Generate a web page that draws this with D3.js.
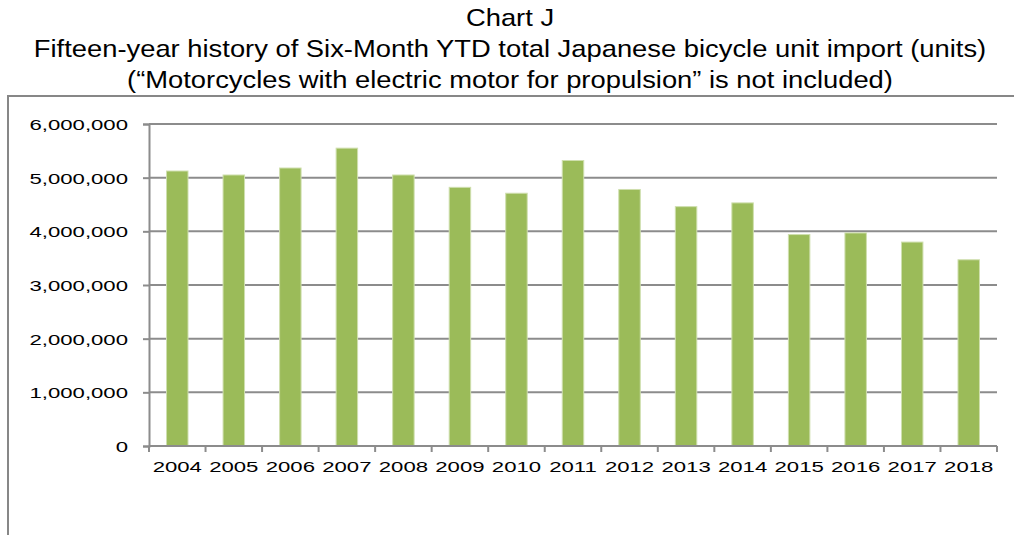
<!DOCTYPE html>
<html>
<head>
<meta charset="utf-8">
<script src="https://cdn.jsdelivr.net/npm/d3@7"></script>
<style>
  body { margin: 0; background: #fff; }
  text { font-family: "Liberation Sans", Arial, sans-serif; fill: #000; }
</style>
</head>
<body>
<div id="chart"></div>
<script>
// six-month YTD import units
var years = ["2004","2005","2006","2007","2008","2009","2010","2011","2012","2013","2014","2015","2016","2017","2018"];
var units = [5124000, 5050000, 5180000, 5550000, 5050000, 4820000, 4710000, 5320000, 4780000, 4460000, 4530000, 3940000, 3970000, 3800000, 3470000];
var yTicks = [0, 1000000, 2000000, 3000000, 4000000, 5000000, 6000000];
var titleLines = [
    "Chart J",
    "Fifteen-year history of Six-Month YTD total Japanese bicycle unit import (units)",
    "(\u201cMotorcycles with electric motor for propulsion\u201d is not included)"
];

var W = 1014, H = 535;
var plotLeft = 149, plotRight = 997, plotTop = 124, plotBottom = 446;
var stretch = 1.43; // tick labels in the source are widened

var svg = d3.select("#chart").append("svg")
    .attr("width", W)
    .attr("height", H);

// outer chart frame
svg.append("rect")
    .attr("x", 8).attr("y", 96)
    .attr("width", 1020).attr("height", 500)
    .attr("fill", "none")
    .attr("stroke", "#878787")
    .attr("stroke-width", 2);

svg.selectAll("text.title")
    .data(titleLines)
    .enter()
    .append("text")
    .attr("class", "title")
    .attr("text-anchor", "middle")
    .attr("transform", function(d, i){
        return "translate(510," + (26 + i * 31) + ") scale(1.14,1)";
    })
    .style("font-size", "24px")
    .text(function(d){ return d; });

var x = d3.scaleBand().domain(years).range([plotLeft, plotRight]).paddingInner(0.62).paddingOuter(0.31);
var y = d3.scaleLinear().domain([0, 6000000]).range([plotBottom, plotTop]);

// gridlines
svg.append("g").selectAll("line")
    .data(yTicks.slice(1))
    .enter()
    .append("line")
    .attr("x1", plotLeft).attr("x2", plotRight)
    .attr("y1", function(d){ return y(d); })
    .attr("y2", function(d){ return y(d); })
    .attr("stroke", "#8c8c8c")
    .attr("stroke-width", 2);

svg.append("g").selectAll("rect")
    .data(units)
    .enter()
    .append("rect")
    .attr("x", function(d, i){ return x(years[i]); })
    .attr("width", x.bandwidth())
    .attr("y", function(d){ return y(d); })
    .attr("height", function(d){ return plotBottom - y(d); })
    .attr("fill", "#9bbb59")
    .attr("stroke", "#cfdfae")
    .attr("stroke-width", 1);

// y axis
var yAxis = svg.append("g")
    .attr("transform", "translate(" + plotLeft + ",0)")
    .call(d3.axisLeft(y).tickValues(yTicks).tickSize(6).tickPadding(0)
        .tickFormat(d3.format(",")));
yAxis.select(".domain").attr("stroke", "#8c8c8c").attr("stroke-width", 2);
yAxis.selectAll(".tick line").attr("stroke", "#8c8c8c").attr("stroke-width", 2);
yAxis.selectAll("text")
    .attr("x", 0)
    .attr("dy", "0.36em")
    .attr("transform", "translate(-21,0) scale(" + stretch + ",1)")
    .style("font-size", "15.5px")
    .attr("fill", "#000");

// x axis with ticks at band edges
var xAxis = svg.append("g")
    .attr("transform", "translate(0," + plotBottom + ")");
xAxis.append("line")
    .attr("x1", plotLeft).attr("x2", plotRight)
    .attr("stroke", "#8c8c8c").attr("stroke-width", 2);
var step = (plotRight - plotLeft) / years.length;
xAxis.selectAll("line.tk")
    .data(d3.range(years.length + 1))
    .enter()
    .append("line")
    .attr("class", "tk")
    .attr("x1", function(d){ return plotLeft + d * step; })
    .attr("x2", function(d){ return plotLeft + d * step; })
    .attr("y1", 0).attr("y2", 6)
    .attr("stroke", "#8c8c8c").attr("stroke-width", 2);
xAxis.selectAll("text")
    .data(years)
    .enter()
    .append("text")
    .attr("text-anchor", "middle")
    .attr("transform", function(d){
        return "translate(" + (x(d) + x.bandwidth() / 2) + ",26) scale(" + stretch + ",1)";
    })
    .style("font-size", "15.5px")
    .text(function(d){ return d; });
</script>
</body>
</html>
